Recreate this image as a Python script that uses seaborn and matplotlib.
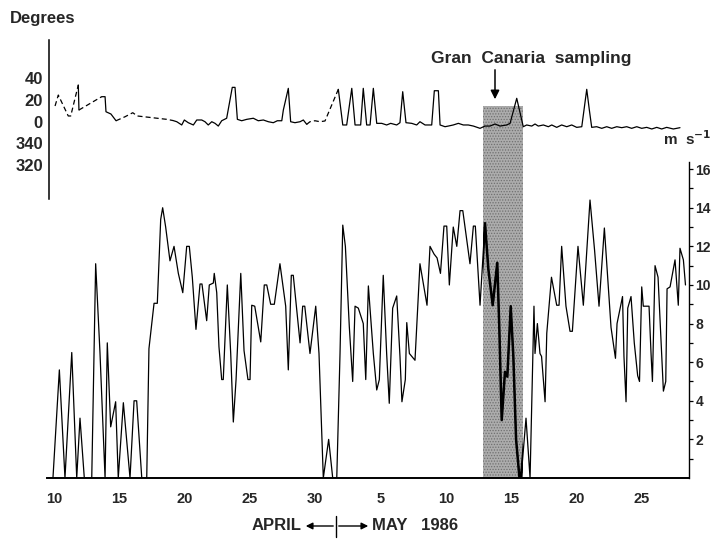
import numpy as np
import pandas as pd
import matplotlib
matplotlib.use("Agg")
import matplotlib.pyplot as plt
import seaborn as sns

# ---------------- data (days since 10 April 1986) ----------------
speed_day = [-0.46, -0.08, 0.41, 0.84, 1.36, 1.74, 1.99, 2.32, 2.89, 3.19,
             3.52, 3.91, 4.08, 4.34, 4.72, 4.92, 5.31, 5.82, 6.13, 6.33,
             6.72, 7.10, 7.27, 7.66, 7.91, 8.17, 8.32, 8.55, 8.88, 9.19,
             9.52, 9.86, 10.16, 10.36, 10.59, 10.87, 11.18, 11.33, 11.69, 11.89,
             12.20, 12.27, 12.46, 12.63, 12.84, 12.96, 13.27, 13.53, 13.73, 13.94,
             14.30, 14.55, 14.85, 15.01, 15.14, 15.37, 15.83, 16.10, 16.29, 16.59,
             16.87, 17.30, 17.74, 17.94, 18.17, 18.32, 18.84, 19.04, 19.20, 19.60,
             20.04, 20.29, 20.62, 21.03, 21.34, 21.65, 21.90, 22.11, 22.31, 22.61,
             22.87, 23.05, 23.30, 23.68, 23.87, 24.07, 24.45, 24.71, 24.91, 25.21,
             25.47, 25.67, 25.93, 26.24, 26.49, 26.64, 26.90, 27.01, 27.21, 27.64,
             28.02, 28.56, 28.79, 29.10, 29.33, 29.59, 29.86, 30.07, 30.27, 30.57,
             30.84, 31.09, 31.30, 31.85, 32.11, 32.26, 32.62, 33.00, 33.26, 33.59,
             33.94, 34.10, 34.28, 34.53, 34.71, 34.97, 35.17, 35.38, 35.64, 35.76,
             36.14, 36.45, 36.75, 36.83, 37.01, 37.21, 37.33, 37.60, 37.73, 38.09,
             38.49, 38.67, 38.87, 39.20, 39.51, 39.69, 40.12, 40.53, 41.04, 41.39,
             41.73, 42.14, 42.44, 42.65, 42.99, 43.11, 43.53, 43.64, 43.80, 43.93,
             44.18, 44.43, 44.69, 44.83, 45.00, 45.12, 45.56, 45.71, 45.82, 46.02,
             46.25, 46.53, 46.66, 46.84, 46.94, 47.17, 47.55, 47.80, 47.93, 48.19, 48.35]
speed_ms = [0, 0, 5.6, 0, 6.5, 0, 3.1, 0, 0, 11.1,
            6.5, 0, 7.0, 2.65, 3.95, 0, 3.9, 0, 4.0, 4.0,
            0, 0, 6.7, 9.05, 9.05, 13.4, 14.0, 13.0, 11.25, 12.0,
            10.6, 9.6, 12.0, 12.0, 10.4, 7.7, 10.05, 10.05, 8.15, 10.0,
            10.1, 10.6, 9.6, 6.8, 5.1, 5.1, 10.0, 6.45, 2.9, 5.1,
            10.6, 6.6, 5.1, 5.1, 8.95, 8.9, 7.05, 10.0, 10.0, 9.0,
            9.0, 11.1, 8.9, 5.6, 10.5, 10.5, 7.0, 8.9, 8.9, 6.45,
            8.9, 6.45, 0, 2.0, 0, 0, 6.45, 13.1, 12.0, 7.85,
            5.0, 8.9, 8.8, 8.0, 5.1, 9.95, 6.45, 4.56, 5.1, 10.5,
            6.45, 3.87, 8.8, 9.43, 6.3, 3.95, 5.1, 8.05, 6.45, 6.1,
            11.1, 8.95, 12.0, 11.6, 11.4, 10.6, 13.05, 13.05, 10.0, 13.0,
            12.0, 13.85, 13.85, 11.1, 13.05, 13.05, 8.95, 13.2, 10.8, 8.95,
            11.15, 7.67, 3.0, 5.5, 5.25, 8.9, 6.3, 2.0, 0, 0,
            3.1, 0, 8.9, 6.45, 8.0, 6.45, 6.3, 3.95, 7.5, 10.4,
            8.95, 8.95, 12.0, 8.9, 7.6, 7.6, 12.0, 8.95, 14.4, 11.8,
            8.9, 12.95, 9.9, 7.8, 6.2, 8.0, 9.4, 6.3, 3.95, 8.8,
            9.4, 7.0, 5.3, 5.0, 9.9, 8.9, 8.9, 6.5, 5.0, 11.0,
            10.4, 6.45, 4.5, 5.0, 9.8, 9.9, 11.3, 8.95, 11.9, 11.3, 10.0]

dir_day = [0.08, 0.33, 1.09, 1.28, 1.86, 1.91, 3.65, 3.91, 3.98, 4.36, 4.75, 5.44, 6.03, 6.38, 8.63, 9.11,
           9.40, 9.78, 9.98, 10.28, 10.67, 10.93, 11.31, 11.56, 11.81, 12.08,
           12.33, 12.58, 12.84, 13.22, 13.65, 13.86, 14.04, 14.37, 14.76, 15.26,
           15.64, 16.03, 16.41, 16.79, 17.10, 17.44, 17.56, 17.94, 18.12, 18.45,
           18.84, 19.09, 19.35,
           19.60, 19.98, 20.37, 20.75, 21.77,
           22.11, 22.41, 22.80, 23.05, 23.48, 23.68, 23.94, 24.20, 24.45, 24.71,
           25.09, 25.47, 25.78, 26.24, 26.49, 26.70, 26.95, 27.39, 27.77, 28.02,
           28.41, 28.92, 29.12, 29.43, 29.56, 29.94, 30.19, 30.57, 30.96, 31.34,
           31.72, 32.11, 32.62, 33.00, 33.38, 33.77, 34.15, 34.66, 34.92, 35.43,
           35.93, 36.19, 36.58, 36.83, 37.08, 37.47, 37.85, 38.11, 38.49, 38.87,
           39.26, 39.64, 40.02, 40.41, 40.58, 40.79, 40.99, 41.17, 41.55, 41.94,
           42.32, 42.70, 43.09, 43.47, 43.85, 44.23, 44.62, 45.00, 45.38, 45.77,
           46.15, 46.53, 46.91, 47.42, 47.93]
dir_deg = [14.3, 24.4, 5.1, 5.1, 33.7, 10.6, 22.9, 22.9, 9.0, 6.9, 0.7, 4.4, 8.1, 5.1, 2.0, 0.9,
           -0.2, -3.2, 1.4, -1.1, -3.2, 1.4, 1.4, -0.2, -3.2, -0.2,
           -1.7, -4.2, 0.7, 3.0, 31.5, 31.5, 2.0, 0.7, 2.0, 3.0,
           0.7, 1.4, -0.2, -1.1, 0.7, 0.7, 10.6, 30.6, -0.2, -1.1,
           -0.2, 1.4, -2.6,
           -0.2, 0.7, -0.2, 0.5, 29.7,
           -3.2, -3.2, 30.6, -3.2, -3.2, 30.6, -3.2, -3.2, 30.6, -1.7,
           -1.7, -3.2, -1.7, -3.2, -1.1, 27.5, -1.1, -1.7, -3.2, -0.2,
           -3.2, -3.2, 28.4, 28.4, -3.2, -4.8, -4.2, -3.2, -1.7, -3.2,
           -3.2, -4.2, -6.3, -4.2, -4.2, -2.3, -4.2, -3.2, -1.7, 21.4,
           -4.8, -3.2, -4.2, -2.3, -4.2, -3.2, -4.8, -3.2, -5.4, -3.2,
           -4.8, -3.2, -5.4, -4.8, 10.6, 29.7, 10.6, -5.4, -4.8, -6.3,
           -4.8, -6.3, -4.8, -5.7, -4.8, -6.3, -4.8, -6.3, -5.4, -6.9,
           -5.4, -6.9, -5.4, -6.9, -5.7]
# periods where direction was interpolated (dashed)
interp_spans = [(0.0, 1.87), (1.90, 3.66), (4.74, 9.12), (19.34, 21.78)]

sampling_start, sampling_end = 32.87, 35.89
x_major = [0, 5, 10, 15, 20, 25, 30, 35, 40, 45]
x_labels = ["10", "15", "20", "25", "30", "5", "10", "15", "20", "25"]
deg_ticks = [-40, -20, 0, 20, 40]
deg_labels = ["320", "340", "0", "20", "40"]
speed_ticks = [2, 4, 6, 8, 10, 12, 14, 16]

# ---------------- figure ----------------
sns.set_style("white")
plt.rcParams["font.family"] = ["Liberation Sans", "DejaVu Sans"]
plt.rcParams["font.weight"] = "bold"
plt.rcParams["hatch.linewidth"] = 0.6

W, H = 712, 539
fig = plt.figure(figsize=(W / 100, H / 100), dpi=100)
ax2 = fig.add_axes([47 / W, 61 / H, 642 / W, 316 / H])
ax1 = fig.add_axes([49 / W, 340 / H, 640 / W, 159 / H])
ax1.patch.set_visible(False)

# wind speed
sns.lineplot(x=speed_day, y=speed_ms, ax=ax2, color="black", linewidth=0.9,
             estimator=None, sort=False)
ax2.set_xlim(-0.536, 48.62)
ax2.set_ylim(0, 16.37)
span = ax2.axvspan(sampling_start, sampling_end, ymin=0, ymax=1.177, clip_on=False,
                   facecolor="#acacac", edgecolor="#707070", hatch="......", linewidth=0, zorder=0)
# heavier trace within the sampling period
n_before = len(ax2.lines)
sns.lineplot(x=speed_day, y=speed_ms, ax=ax2, color="black", linewidth=1.8,
             estimator=None, sort=False)
for ln in ax2.lines[n_before:]:
    ln.set_clip_path(span)

for s in ["top", "left"]:
    ax2.spines[s].set_visible(False)
ax2.spines["bottom"].set_linewidth(1.4)
ax2.spines["right"].set_linewidth(1.0)
ax2.spines["bottom"].set_color("black")
ax2.spines["right"].set_color("black")
ax2.yaxis.tick_right()
ax2.set_yticks(speed_ticks)
ax2.set_yticklabels([str(v) for v in speed_ticks], fontsize=10, fontweight="bold")
ax2.set_yticks(list(range(1, 17, 2)), minor=True)
ax2.set_xticks(x_major)
ax2.set_xticklabels(x_labels, fontsize=10.5, fontweight="bold")
ax2.set_xticks(list(range(0, 49)), minor=True)
ax2.tick_params(axis="x", which="both", direction="out", length=4, width=0.9, color="black", pad=6)
ax2.tick_params(axis="y", which="both", direction="out", length=3, width=0.9, color="black", pad=1.5)
ax2.set_xlabel("")
ax2.set_ylabel("")

# wind direction
rows = []
unit = 0
prev_kind = None
for i in range(len(dir_day) - 1):
    mid = 0.5 * (dir_day[i] + dir_day[i + 1])
    kind = "interpolated" if any(a <= mid <= b for a, b in interp_spans) else "measured"
    if kind != prev_kind:
        unit += 1
        rows.append((dir_day[i], dir_deg[i], unit, kind))
    rows.append((dir_day[i + 1], dir_deg[i + 1], unit, kind))
    prev_kind = kind
df_dir = pd.DataFrame(rows, columns=["day", "deg", "seg", "kind"])
sns.lineplot(data=df_dir, x="day", y="deg", units="seg", style="kind", estimator=None,
             sort=False, color="black", linewidth=0.9, legend=False, ax=ax1,
             dashes={"measured": "", "interpolated": (4, 2.5)})
ax1.set_xlim(-0.383, 48.62)
ax1.set_ylim(-71.5, 75.2)
for s in ["top", "right", "bottom"]:
    ax1.spines[s].set_visible(False)
ax1.spines["left"].set_linewidth(1.1)
ax1.spines["left"].set_color("black")
ax1.set_xticks([])
ax1.set_yticks(deg_ticks)
ax1.set_yticklabels(deg_labels, fontsize=12, fontweight="bold")
ax1.tick_params(axis="y", direction="out", length=3, width=0.9, color="black", pad=1.5)
ax1.set_xlabel("")
ax1.set_ylabel("")

# annotations
def fx(x):
    return x / W

def fy(y):
    return 1 - y / H

fig.text(fx(10), fy(18), "Degrees", fontsize=12, fontweight="bold", ha="left", va="center")
fig.text(fx(687), fy(139), "m  s$^{\\mathbf{-1}}$", fontsize=11, fontweight="bold", ha="center", va="center")
fig.text(fx(531), fy(58), "Gran  Canaria  sampling", fontsize=12.5, fontweight="bold",
         ha="center", va="center")
fig.add_artist(matplotlib.patches.FancyArrowPatch((fx(495), fy(67)), (fx(495), fy(102)),
               transform=fig.transFigure, arrowstyle="-|>", mutation_scale=13,
               color="black", lw=1.1))

# bottom month label
fig.text(fx(302), fy(526), "APRIL", fontsize=12, fontweight="bold", ha="right", va="center")
fig.text(fx(372), fy(526), "MAY   1986", fontsize=12, fontweight="bold", ha="left", va="center")
fig.add_artist(matplotlib.patches.FancyArrowPatch((fx(336), fy(526)), (fx(303), fy(526)),
               transform=fig.transFigure, arrowstyle="-|>", mutation_scale=10,
               color="black", lw=1.0))
fig.add_artist(matplotlib.patches.FancyArrowPatch((fx(336), fy(526)), (fx(371), fy(526)),
               transform=fig.transFigure, arrowstyle="-|>", mutation_scale=10,
               color="black", lw=1.0))
fig.add_artist(matplotlib.lines.Line2D([fx(336), fx(336)], [fy(516), fy(537)],
               transform=fig.transFigure, color="black", lw=1.0))

fig.savefig("out.png", dpi=100, facecolor="white")
